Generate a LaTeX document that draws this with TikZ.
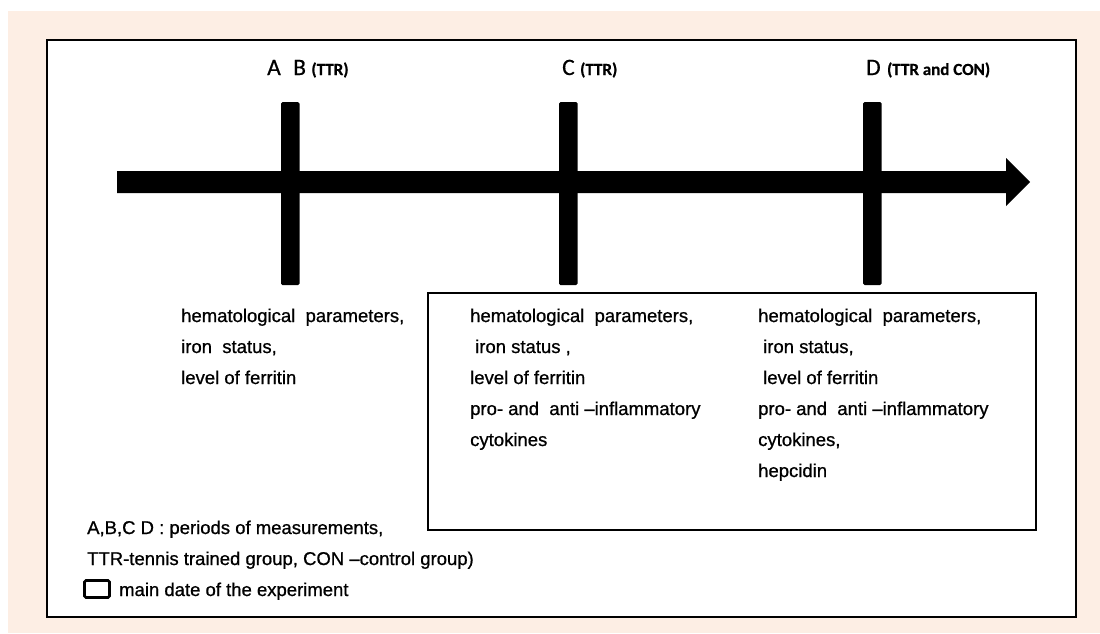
\documentclass[tikz,border=0pt]{standalone}
\usepackage{fontspec}
\setmainfont[FakeBold=0.8]{Liberation Sans}
\newfontfamily\calfont[FakeBold=0.6]{Carlito}
\usetikzlibrary{positioning}
\definecolor{peach}{HTML}{FDEEE4}

\begin{document}
\begin{tikzpicture}[x=1pt,y=-1pt,
  bar/.style={fill=black,rounded corners=1.5pt},
  per/.style={anchor=base west,inner sep=0pt,font=\calfont\fontsize{23.5}{24}\selectfont},
  grp/.style={anchor=base west,inner sep=0pt,font=\calfont\bfseries\fontsize{17}{18}\selectfont},
  lst/.style={anchor=base west,inner sep=0pt,font=\fontsize{18.5}{22}\selectfont}]
\useasboundingbox (0,0) rectangle (1100,633);

% background and frame
\fill[peach] (8,11) rectangle (1100,633);
\fill[white,draw=black,line width=1.8pt] (47,40) rectangle (1076,617);

% time axis
\fill (117,171) -- (1006,171) -- (1006,158) -- (1030,182) -- (1006,206) -- (1006,193) -- (117,193) -- cycle;

% periods of measurements
\foreach \x in {281,559,863}
  \fill[bar] (\x,102) rectangle ++(18.5,183);

% labels
\node[per] (perA) at (267,75) {A};
\node[per] (perB) at (293,75) {B};
\node[grp] (grpB) at ([xshift=5pt]perB.base east) {(TTR)};
\node[per] (perC) at (562,75) {C};
\node[grp] (grpC) at ([xshift=5pt]perC.base east) {(TTR)};
\node[per] (perD) at (866,75) {D};
\node[grp] (grpD) at ([xshift=6pt]perD.base east) {(TTR and CON)};

% main date of the experiment
\draw[line width=2.6pt] (428,293) rectangle (1036,530);

% measured parameters
\foreach \t [count=\i from 0] in {{hematological\ \ parameters,},{iron\ \ status,},{level of ferritin}}
  \node[lst] (colA\i) at (181,322+31*\i) {\t};
\foreach \t [count=\i from 0] in {{hematological\ \ parameters,},{\hspace*{5pt}iron status ,},{level of ferritin},{pro- and\ \ anti --inflammatory},{cytokines}}
  \node[lst] (colC\i) at (470,322+31*\i) {\t};
\foreach \t [count=\i from 0] in {{hematological\ \ parameters,},{\hspace*{5pt}iron status,},{\hspace*{5pt}level of ferritin},{pro- and\ \ anti --inflammatory},{cytokines,},{hepcidin}}
  \node[lst] (colD\i) at (758,322+31*\i) {\t};

% legend
\node[lst] (legPer) at (87,534) {A,B,C D : periods of measurements,};
\node[lst] (legGrp) at (87,565) {TTR-tennis trained group, CON --control group)};
\node[draw,line width=2.6pt,rounded corners=1.5pt,minimum width=25pt,minimum height=17pt,inner sep=0pt] (legKey) at (97,589) {};
\node[lst] (legMain) at (119,596) {main date of the experiment};
\end{tikzpicture}
\end{document}
